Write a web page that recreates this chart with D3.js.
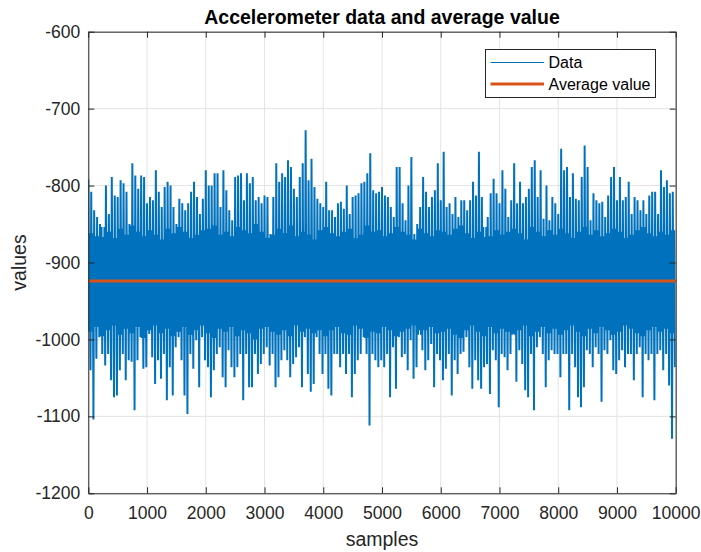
<!DOCTYPE html>
<html>
<head>
<meta charset="utf-8">
<script src="https://cdn.jsdelivr.net/npm/d3@7"></script>
<style>
  body { margin: 0; background: #fff; }
  text { font-family: "Liberation Sans", Arial, sans-serif; fill: #262626; }
</style>
</head>
<body>
<svg id="chart"></svg>
<script>
const width = 701;
const height = 552;
const margin = { top: 31.7, right: 25.3, bottom: 58.7, left: 88.3 };

// samples between two consecutive envelope readings
const binStep = 50;

// upper spike tips, one per 50-sample bin
const highs = [
  -792,-808,-832,-841,-850,-867,-800,-837,-789,-813,-815,-793,-797,-808,-850,-771,-787,-804,-787,-789,-823,-815,-819,-780,-808,-828,-802,-795,-800,-828,-850,-817,-823,-832,
  -823,-808,-795,-815,-837,-817,-780,-800,-800,-784,-784,-828,-780,-806,-832,-845,-789,-787,-784,-819,-784,-797,-789,-819,-815,-823,-813,-815,-863,-815,-771,-795,-784,-789,
  -767,-776,-804,-815,-789,-771,-728,-793,-765,-802,-817,-823,-828,-795,-832,-832,-841,-823,-821,-830,-800,-837,-815,-813,-810,-797,-795,-784,-758,-806,-810,-808,-802,-813,
  -815,-828,-841,-776,-776,-823,-845,-800,-763,-863,-850,-828,-789,-808,-828,-815,-806,-771,-819,-756,-828,-823,-837,-815,-841,-819,-819,-832,-819,-795,-813,-756,-815,-867,
  -841,-810,-791,-810,-823,-780,-804,-841,-819,-771,-823,-795,-823,-815,-804,-776,-767,-815,-780,-843,-800,-845,-815,-823,-837,-752,-780,-776,-815,-784,-817,-819,-789,-748,
  -776,-845,-810,-819,-823,-821,-841,-813,-789,-776,-819,-789,-819,-815,-795,-837,-815,-819,-832,-819,-837,-813,-808,-808,-837,-780,-802,-793,-810,-808
];

// lower spike tips, one per 50-sample bin
const lows = [
  -1040,-1104,-1025,-997,-1019,-1034,-1019,-1053,-1075,-1073,-1040,-1019,-1053,-1027,-1029,-1092,-1027,-997,-1038,-1036,-993,-1023,-1058,-1027,-1051,-1019,-1079,-1036,-1073,-1010,-997,-1027,-1073,-1097,
  -1019,-1038,-1001,-1062,-997,-1027,-1036,-1075,-1040,-1019,-1010,-1049,-1062,-1014,-1036,-1049,-1036,-1019,-1079,-1019,-1062,-1062,-1019,-1045,-1032,-1019,-1010,-1034,-1019,-1062,-1049,-1027,-1014,-1027,
  -1049,-1032,-1023,-1010,-1062,-997,-1045,-1068,-1058,-997,-1019,-1045,-1019,-1064,-1073,-1019,-1019,-1036,-1019,-1045,-1019,-1075,-1045,-1027,-1019,-997,-1019,-1112,-1019,-1027,-1036,-1027,-1036,-1019,
  -1075,-1010,-1064,-997,-1023,-1019,-1040,-1001,-1051,-1036,-988,-1014,-1040,-1027,-1006,-1062,-1019,-1027,-1053,-1038,-1019,-1073,-1027,-1045,-1019,-1016,-997,-1036,-1064,-1027,-1053,-1064,-1036,-1032,
  -1071,-1014,-1027,-1088,-1019,-1023,-1040,-1019,-993,-1055,-1014,-1032,-1066,-1075,-1019,-1092,-1010,-997,-1019,-1062,-1027,-1014,-1019,-1019,-1049,-1019,-1019,-1092,-1019,-1036,-1075,-1088,-1062,-1014,
  -1019,-1036,-1010,-1019,-1081,-1014,-1019,-1001,-1040,-1045,-1027,-1014,-1036,-1019,-1019,-1053,-1019,-1010,-1075,-1019,-1027,-1019,-1079,-1019,-1014,-1040,-1019,-1060,-1129,-1036
];

// edges of the dense core band, one per 100-sample block
const coreHighs = [
  -862,-866,-854,-860,-868,-856,-864,-852,-860,-866,-858,-864,-870,-856,-862,-854,-860,-868,-864,-858,
  -856,-852,-864,-860,-866,-854,-858,-862,-850,-860,-868,-864,-856,-862,-852,-866,-860,-864,-870,-858,
  -854,-862,-866,-860,-856,-868,-864,-852,-860,-858,-866,-862,-854,-860,-864,-870,-856,-862,-866,-858,
  -860,-864,-856,-852,-862,-868,-860,-854,-866,-858,-864,-860,-856,-862,-870,-854,-860,-866,-858,-864,
  -856,-862,-868,-860,-854,-864,-858,-866,-862,-856,-860,-868,-864,-858,-854,-862,-866,-860,-864,-858
];

const coreLows = [
  -990,-984,-996,-988,-982,-994,-986,-992,-984,-998,-988,-982,-992,-986,-996,-990,-984,-994,-988,-982,
  -992,-998,-986,-990,-984,-996,-988,-992,-1000,-986,-984,-990,-994,-988,-996,-982,-990,-986,-992,-988,
  -996,-988,-984,-992,-994,-982,-986,-998,-990,-992,-984,-988,-996,-990,-986,-982,-994,-988,-984,-992,
  -990,-986,-994,-998,-988,-982,-990,-996,-984,-992,-986,-990,-994,-988,-982,-996,-990,-984,-992,-986,
  -994,-988,-982,-990,-996,-986,-992,-984,-988,-994,-990,-982,-986,-992,-996,-988,-984,-990,-986,-992
];

const averageValue = -924;
const xTicks = [0, 1000, 2000, 3000, 4000, 5000, 6000, 7000, 8000, 9000, 10000];
const yTicks = [-1200, -1100, -1000, -900, -800, -700, -600];
const legendLabels = ["Data", "Average value"];

const dataColor = "#0072BD";
const avgColor = "#D95319";
const axisColor = "#262626";
const gridColor = "#e3e3e3";

// trace per bin: spike up, down into the core, back up in the core, spike down
const data = [];
highs.forEach((h, i) => {
    const k = Math.floor(i / 2);
    data.push([i * binStep, h]);
    data.push([i * binStep + binStep * 0.25, coreLows[k]]);
    data.push([i * binStep + binStep * 0.5, coreHighs[k]]);
    data.push([i * binStep + binStep * 0.75, lows[i]]);
});

const svg = d3.select("#chart")
    .attr("width", width)
    .attr("height", height);

const x = d3.scaleLinear()
    .domain([0, 10000])
    .range([margin.left, width - margin.right]);

const y = d3.scaleLinear()
    .domain([-1200, -600])
    .range([height - margin.bottom, margin.top]);

// grid
svg.append("g")
    .attr("stroke", gridColor)
    .attr("stroke-width", 1)
    .selectAll("line")
    .data(xTicks)
    .join("line")
    .attr("x1", d => x(d)).attr("x2", d => x(d))
    .attr("y1", y(-600)).attr("y2", y(-1200));

svg.append("g")
    .attr("stroke", gridColor)
    .attr("stroke-width", 1)
    .selectAll("line")
    .data(yTicks)
    .join("line")
    .attr("y1", d => y(d)).attr("y2", d => y(d))
    .attr("x1", x(0)).attr("x2", x(10000));

svg.append("defs").append("clipPath")
    .attr("id", "plot")
    .append("rect")
    .attr("x", x(0)).attr("y", y(-600))
    .attr("width", x(10000) - x(0))
    .attr("height", y(-1200) - y(-600));

const line = d3.line()
    .x(d => x(d[0]))
    .y(d => y(d[1]));

svg.append("path")
    .datum(data)
    .attr("clip-path", "url(#plot)")
    .attr("fill", "none")
    .attr("stroke", dataColor)
    .attr("stroke-width", 2)
    .attr("stroke-linejoin", "miter")
    .attr("stroke-miterlimit", 2)
    .attr("d", line);

svg.append("line")
    .attr("x1", x(0)).attr("x2", x(10000))
    .attr("y1", y(averageValue)).attr("y2", y(averageValue))
    .attr("stroke", avgColor)
    .attr("stroke-width", 3);

// axes (ticks point inwards, MATLAB box style)
const tickLen = 6;
const tickFont = 17.5;
const fmt = d => String(d);

svg.append("g")
    .attr("transform", `translate(0,${y(-1200)})`)
    .call(d3.axisBottom(x).tickValues(xTicks).tickSizeInner(-tickLen).tickSizeOuter(0).tickPadding(13).tickFormat(fmt))
    .call(g => g.selectAll("text").attr("font-size", tickFont).attr("fill", axisColor))
    .call(g => g.selectAll("line, path").attr("stroke", axisColor));

svg.append("g")
    .attr("transform", `translate(0,${y(-600)})`)
    .call(d3.axisTop(x).tickValues(xTicks).tickSizeInner(-tickLen).tickSizeOuter(0).tickFormat(""))
    .call(g => g.selectAll("line, path").attr("stroke", axisColor));

svg.append("g")
    .attr("transform", `translate(${x(0)},0)`)
    .call(d3.axisLeft(y).tickValues(yTicks).tickSizeInner(-tickLen).tickSizeOuter(0).tickPadding(8).tickFormat(fmt))
    .call(g => g.selectAll("text").attr("font-size", tickFont).attr("fill", axisColor))
    .call(g => g.selectAll("line, path").attr("stroke", axisColor));

svg.append("g")
    .attr("transform", `translate(${x(10000)},0)`)
    .call(d3.axisRight(y).tickValues(yTicks).tickSizeInner(-tickLen).tickSizeOuter(0).tickFormat(""))
    .call(g => g.selectAll("line, path").attr("stroke", axisColor));

svg.selectAll(".domain").attr("stroke-width", 1);

// titles
svg.append("text")
    .attr("x", (x(0) + x(10000)) / 2)
    .attr("y", 24)
    .attr("text-anchor", "middle")
    .attr("font-size", 19.5)
    .attr("font-weight", "bold")
    .style("fill", "#000")
    .text("Accelerometer data and average value");

svg.append("text")
    .attr("x", (x(0) + x(10000)) / 2)
    .attr("y", 546)
    .attr("text-anchor", "middle")
    .attr("font-size", 19.5)
    .text("samples");

svg.append("text")
    .attr("transform", `translate(26,${(y(-600) + y(-1200)) / 2}) rotate(-90)`)
    .attr("text-anchor", "middle")
    .attr("font-size", 19.5)
    .text("values");

// legend
const legend = svg.append("g").attr("transform", "translate(485.5,49.5)");
legend.append("rect")
    .attr("width", 170).attr("height", 48)
    .attr("fill", "#fff")
    .attr("stroke", axisColor)
    .attr("stroke-width", 1);

legend.selectAll("line")
    .data(legendLabels)
    .join("line")
    .attr("x1", 5).attr("x2", 58.5)
    .attr("y1", (d, i) => 13 + i * 21.5).attr("y2", (d, i) => 13 + i * 21.5)
    .attr("stroke", (d, i) => i === 0 ? dataColor : avgColor)
    .attr("stroke-width", (d, i) => i === 0 ? 1 : 3);

legend.selectAll("text")
    .data(legendLabels)
    .join("text")
    .attr("x", 63)
    .attr("y", (d, i) => 13 + i * 21.5)
    .attr("dy", "0.35em")
    .attr("font-size", 16)
    .style("fill", "#000")
    .text(d => d);
</script>
</body>
</html>
